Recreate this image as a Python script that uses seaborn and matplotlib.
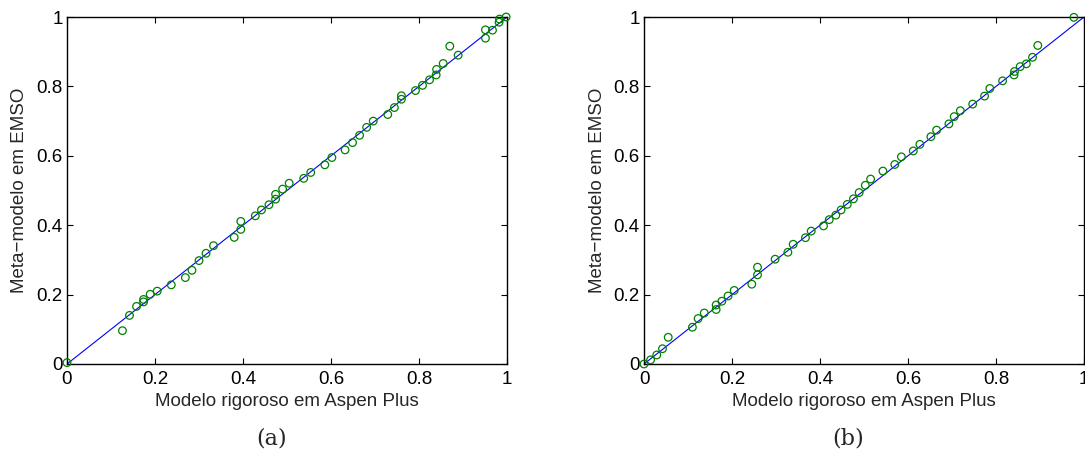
import numpy as np
import pandas as pd
import seaborn as sns
import matplotlib.pyplot as plt

# Panel (a): rigorous model (Aspen Plus) vs meta-model (EMSO), normalised
aspen_a = [0.0, 0.126, 0.142, 0.158, 0.174, 0.174, 0.189, 0.205, 0.237, 0.269,
           0.284, 0.300, 0.316, 0.333, 0.380, 0.395, 0.395, 0.428, 0.442, 0.459,
           0.474, 0.474, 0.490, 0.505, 0.538, 0.554, 0.586, 0.602, 0.632, 0.649,
           0.665, 0.681, 0.696, 0.729, 0.744, 0.760, 0.760, 0.792, 0.808, 0.824,
           0.839, 0.840, 0.855, 0.870, 0.889, 0.951, 0.951, 0.967, 0.982, 0.983,
           0.998]
emso_a = [0.004, 0.096, 0.140, 0.166, 0.179, 0.186, 0.201, 0.210, 0.228, 0.249,
          0.270, 0.298, 0.319, 0.341, 0.365, 0.388, 0.411, 0.427, 0.444, 0.459,
          0.475, 0.489, 0.504, 0.521, 0.535, 0.552, 0.574, 0.595, 0.617, 0.638,
          0.659, 0.682, 0.700, 0.719, 0.739, 0.763, 0.773, 0.788, 0.803, 0.819,
          0.833, 0.849, 0.866, 0.916, 0.890, 0.963, 0.939, 0.962, 0.985, 0.994,
          1.0]

# Panel (b)
aspen_b = [0.0, 0.015, 0.029, 0.042, 0.055, 0.110, 0.123, 0.137, 0.164, 0.164,
           0.177, 0.191, 0.205, 0.245, 0.258, 0.258, 0.298, 0.327, 0.339, 0.367,
           0.380, 0.408, 0.421, 0.436, 0.448, 0.462, 0.476, 0.489, 0.503, 0.515,
           0.543, 0.570, 0.585, 0.612, 0.627, 0.652, 0.665, 0.693, 0.705, 0.719,
           0.747, 0.774, 0.786, 0.815, 0.841, 0.842, 0.855, 0.869, 0.883, 0.895,
           0.977]
emso_b = [0.0, 0.012, 0.026, 0.044, 0.077, 0.106, 0.131, 0.147, 0.157, 0.170,
          0.181, 0.196, 0.212, 0.230, 0.257, 0.279, 0.302, 0.322, 0.345, 0.364,
          0.383, 0.398, 0.416, 0.429, 0.444, 0.460, 0.476, 0.494, 0.515, 0.533,
          0.556, 0.575, 0.597, 0.614, 0.633, 0.655, 0.674, 0.692, 0.713, 0.730,
          0.749, 0.772, 0.794, 0.816, 0.833, 0.843, 0.857, 0.865, 0.884, 0.918,
          0.999]

# ideal y = x line
ideal = [0.0, 1.0]

ticks = [0, 0.2, 0.4, 0.6, 0.8, 1]
tick_labels = ['0', '0.2', '0.4', '0.6', '0.8', '1']

sns.set_style('ticks')
plt.rcParams['font.family'] = ['Liberation Sans', 'DejaVu Sans']

W, H = 1085, 450
fig = plt.figure(figsize=(W / 100, H / 100), dpi=100)
ax_a = fig.add_axes([67 / W, 1 - 364 / H, 440 / W, 347 / H])
ax_b = fig.add_axes([644 / W, 1 - 364 / H, 440 / W, 347 / H])

panels = [(ax_a, aspen_a, emso_a, '(a)', 272), (ax_b, aspen_b, emso_b, '(b)', 848)]
for ax, x, y, tag, cap_x in panels:
    sns.lineplot(x=ideal, y=ideal, ax=ax, color='#0000ff', linewidth=0.8)
    sns.scatterplot(x=x, y=y, ax=ax, marker='o', s=30, facecolor='none',
                    edgecolor='#008000', linewidth=0.9, clip_on=False, zorder=3)
    ax.set_xlim(0, 1)
    ax.set_ylim(0, 1)
    ax.set_xticks(ticks)
    ax.set_xticklabels(tick_labels)
    ax.set_yticks(ticks)
    ax.set_yticklabels(tick_labels)
    ax.tick_params(direction='in', top=True, right=True, length=4, width=0.8,
                   labelsize=13.5, colors='black')
    ax.tick_params(axis='x', pad=5)
    ax.tick_params(axis='y', pad=3)
    for sp in ax.spines.values():
        sp.set_visible(True)
        sp.set_linewidth(1.0)
        sp.set_color('black')
    ax.set_xlabel('Modelo rigoroso em Aspen Plus', fontsize=13.5, va='center')
    ax.xaxis.set_label_coords(0.5, -37 / 347)
    ax.set_ylabel('Meta\u2212modelo em EMSO', fontsize=13.5, va='center')
    ax.yaxis.set_label_coords(-47 / 440, 0.5)
    fig.text(cap_x / W, 1 - 438 / H, tag, ha='center', va='center',
             fontsize=16, family=['DejaVu Serif'])

fig.savefig('out.png', dpi=100)
